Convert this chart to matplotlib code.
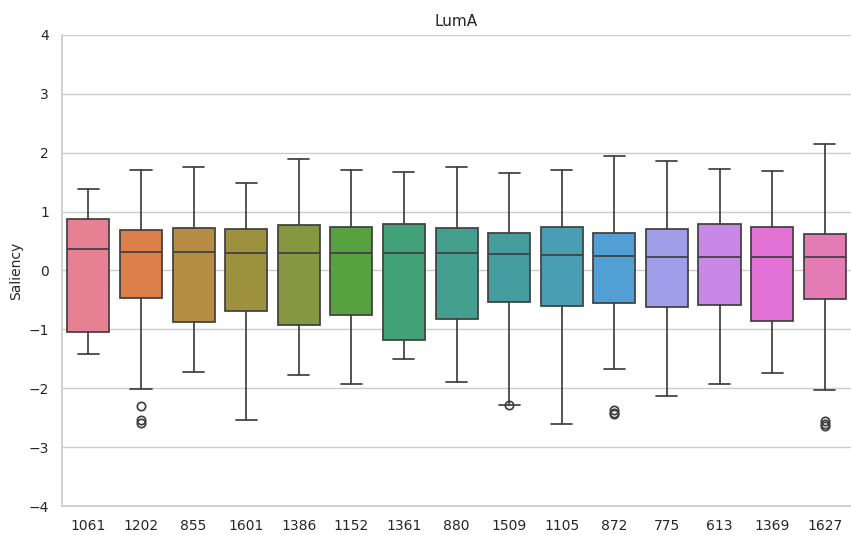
import matplotlib
matplotlib.use("Agg")
import matplotlib.pyplot as plt
import seaborn as sns

# per-sample box statistics (saliency)
samples = ["1061", "1202", "855", "1601", "1386", "1152", "1361", "880",
           "1509", "1105", "872", "775", "613", "1369", "1627"]
whis_hi = [1.38, 1.71, 1.75, 1.49, 1.89, 1.71, 1.67, 1.75, 1.66, 1.71, 1.94, 1.86, 1.72, 1.68, 2.14]
q3 = [0.88, 0.69, 0.72, 0.70, 0.77, 0.73, 0.79, 0.72, 0.63, 0.73, 0.63, 0.70, 0.79, 0.74, 0.62]
median = [0.37, 0.31, 0.31, 0.30, 0.30, 0.30, 0.29, 0.29, 0.28, 0.26, 0.25, 0.23, 0.23, 0.23, 0.22]
q1 = [-1.05, -0.47, -0.87, -0.69, -0.92, -0.76, -1.18, -0.83, -0.54, -0.60, -0.55, -0.62, -0.59, -0.86, -0.48]
whis_lo = [-1.41, -2.01, -1.72, -2.53, -1.78, -1.93, -1.51, -1.89, -2.29, -2.61, -1.67, -2.13, -1.92, -1.74, -2.03]
outliers = [[], [-2.30, -2.54, -2.59], [], [], [], [], [], [],
            [-2.29], [], [-2.37, -2.42, -2.44], [], [], [], [-2.55, -2.61, -2.64]]

sns.set_theme(style="whitegrid")
colors = [sns.desaturate(c, 0.75) for c in sns.color_palette("husl", len(samples))]

stats = []
for i, name in enumerate(samples):
    stats.append(dict(label=name, med=median[i], q1=q1[i], q3=q3[i],
                      whislo=whis_lo[i], whishi=whis_hi[i], fliers=outliers[i]))

fig, ax = plt.subplots(figsize=(8.51, 5.35), dpi=100)
fig.subplots_adjust(left=0.073, right=1.0, top=0.935, bottom=0.054)

gray = "#3f3f3f"
bp = ax.bxp(stats, positions=range(len(samples)), widths=0.8, patch_artist=True,
            boxprops=dict(edgecolor=gray, linewidth=1.25),
            medianprops=dict(color=gray, linewidth=1.25),
            whiskerprops=dict(color=gray, linewidth=1.25),
            capprops=dict(color=gray, linewidth=1.25),
            flierprops=dict(marker="o", markerfacecolor="none", markeredgecolor=gray,
                            markersize=6, markeredgewidth=1.25))
for patch, c in zip(bp["boxes"], colors):
    patch.set_facecolor(c)

ax.set_xlim(-0.5, len(samples) - 0.5)
ax.set_ylim(-4, 4)
ax.set_yticks(range(-4, 5))
ax.set_xticks(range(len(samples)))
ax.set_xticklabels(samples)
ax.tick_params(labelsize=10)
ax.xaxis.grid(False)
ax.spines["right"].set_visible(False)
ax.spines["top"].set_visible(False)
ax.set_ylabel("Saliency", fontsize=10)
ax.set_title("LumA", fontsize=11)

fig.savefig("out.png", dpi=100)
